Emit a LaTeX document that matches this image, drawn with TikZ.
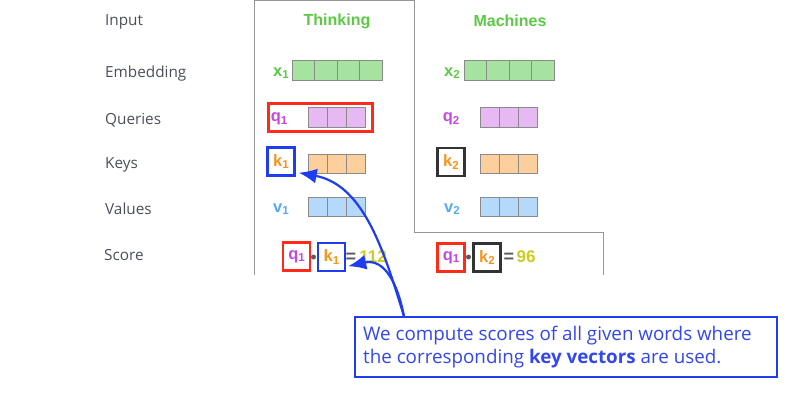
\documentclass[tikz,border=0pt]{standalone}
\usepackage{fontspec}
\setmainfont{Open Sans}
\newfontfamily\hv{Liberation Sans}
\usetikzlibrary{arrows.meta,calc}
\definecolor{lblgray}{HTML}{4A4F57}
\definecolor{wgreen}{HTML}{5BC943}
\definecolor{embg}{HTML}{A6E3A0}
\definecolor{qfill}{HTML}{E6B9F2}
\definecolor{qtext}{HTML}{C548E0}
\definecolor{kfill}{HTML}{FDCF9C}
\definecolor{ktext}{HTML}{F7941D}
\definecolor{vfill}{HTML}{B4D9FB}
\definecolor{vtext}{HTML}{55A8F5}
\definecolor{cellline}{HTML}{8A8A8A}
\definecolor{sblue}{HTML}{1E3CF0}
\definecolor{tblue}{HTML}{3347EE}
\definecolor{sred}{HTML}{FF2A1A}
\definecolor{sdark}{HTML}{333333}
\definecolor{scorecol}{HTML}{CCCC22}
\newcommand\vlab[2]{#1\raisebox{-0.3ex}{\fontsize{11.5}{11}\selectfont #2}}
\begin{document}
\begin{tikzpicture}[x=1pt,y=-1pt,
  rowlab/.style={anchor=west,inner sep=0pt,text=lblgray,font=\fontsize{15.3}{17}\selectfont},
  word/.style={inner sep=0pt,text=wgreen,font=\hv\bfseries\fontsize{16}{18}\selectfont},
  vlabel/.style={inner sep=0pt,font=\hv\bfseries\fontsize{16.5}{18}\selectfont},
  slabel/.style={font=\hv\bfseries\fontsize{16.5}{18}\selectfont},
  cell/.style={draw=cellline,line width=1pt,inner sep=0pt,minimum height=19.5pt},
  ecell/.style={cell,fill=embg,minimum width=22.5pt},
  qcell/.style={cell,fill=qfill,minimum width=19pt},
  kcell/.style={cell,fill=kfill,minimum width=19pt},
  vcell/.style={cell,fill=vfill,minimum width=19pt},
  sk/.style={draw,line width=2.4pt,inner sep=0pt,minimum width=27pt,minimum height=28pt},
  colframe/.style={draw=cellline!90,line width=1pt},
  barrow/.style={draw=sblue,line width=2.2pt,-{Latex[length=18pt,width=15pt]}},
  callout/.style={draw=sblue,line width=2.2pt,fill=white,minimum width=422pt,minimum height=60pt,inner sep=0pt}
]
\useasboundingbox (0,0) rectangle (812,404);

% column frame
\draw[colframe] (254,275) -- (254,1) -- (414,1) -- (414,232) -- (603,232) -- (603,275);

% row labels
\node[rowlab] (lInput) at (105,22) {Input};
\node[rowlab] (lEmb) at (105,74) {Embedding};
\node[rowlab] (lQ) at (105,120) {Queries};
\node[rowlab] (lK) at (105,165) {Keys};
\node[rowlab] (lV) at (105,209) {Values};
\node[rowlab] (lS) at (104,255) {Score};

% words
\node[word] (w1) at (337,21) {Thinking};
\node[word] (w2) at (510,21) {Machines};

% embeddings
\node[vlabel,text=wgreen] (x1) at (281,73) {\vlab{x}{1}};
\node[vlabel,text=wgreen] (x2) at (452,73) {\vlab{x}{2}};
\foreach \i in {1,...,4} {
  \node[ecell] (ea\i) at ({292+(\i-0.5)*22.5},70.5) {};
  \node[ecell] (eb\i) at ({464+(\i-0.5)*22.5},70.5) {};
}

% queries
\node[vlabel,text=qtext] (q1) at (279,119) {\vlab{q}{1}};
\node[vlabel,text=qtext] (q2) at (451,119) {\vlab{q}{2}};
\foreach \i in {1,...,3} {
  \node[qcell] (qa\i) at ({308+(\i-0.5)*19},117.5) {};
  \node[qcell] (qb\i) at ({480+(\i-0.5)*19},117.5) {};
}
\node[draw=sred,line width=2.6pt,minimum width=104pt,minimum height=28pt,inner sep=0pt] (qbox) at (320.5,117.5) {};

% keys
\node[sk,draw=sblue,text=ktext,slabel] (k1) at (281,161.5) {\vlab{k}{1}};
\node[sk,draw=sdark,text=ktext,slabel] (k2) at (451,162) {\vlab{k}{2}};
\foreach \i in {1,...,3} {
  \node[kcell] (ka\i) at ({308+(\i-0.5)*19},164) {};
  \node[kcell] (kb\i) at ({480+(\i-0.5)*19},164) {};
}

% values
\node[vlabel,text=vtext] (v1) at (281,209) {\vlab{v}{1}};
\node[vlabel,text=vtext] (v2) at (452,209) {\vlab{v}{2}};
\foreach \i in {1,...,3} {
  \node[vcell] (va\i) at ({308+(\i-0.5)*19},207) {};
  \node[vcell] (vb\i) at ({480+(\i-0.5)*19},207) {};
}

% scores
\node[sk,draw=sred,text=qtext,slabel] (sq1) at (296.5,256.5) {\vlab{q}{1}};
\node[circle,fill=sdark!80,inner sep=0pt,minimum size=5pt] (d1) at (313.5,257) {};
\node[sk,draw=sblue,text=ktext,slabel] (sk1) at (331.5,257) {\vlab{k}{1}};
\node[inner sep=0pt,text=sdark!80,font=\hv\bfseries\fontsize{18}{18}\selectfont] (eq1) at (351,258) {=};
\node[inner sep=0pt,text=scorecol,font=\hv\bfseries\fontsize{17}{18}\selectfont] (s1) at (373,257) {112};

\node[sk,draw=sred,text=qtext,slabel] (sq2) at (451,257.5) {\vlab{q}{1}};
\node[circle,fill=sdark!80,inner sep=0pt,minimum size=5pt] (d2) at (468.5,257) {};
\node[sk,draw=sdark,text=ktext,slabel] (sk2) at (487,257.5) {\vlab{k}{2}};
\node[inner sep=0pt,text=sdark!80,font=\hv\bfseries\fontsize{18}{18}\selectfont] (eq2) at (509,258) {=};
\node[inner sep=0pt,text=scorecol,font=\hv\bfseries\fontsize{17}{18}\selectfont] (s2) at (526,257) {96};

% callout
\node[callout] (call) at (566,347) {};
\node[anchor=west,inner sep=0pt,text=tblue,align=left,font=\fontsize{18.8}{23}\selectfont] (calltxt) at (363,347)
  {We compute scores of all given words where\\the corresponding \textbf{key vectors} are used.};
\coordinate (astart) at ($(call.north west)+(50,0)$);

% arrows
\draw[barrow] (astart) .. controls (385,255) and (365,185) .. ($(k1.south east)+(3,-4)$);
\draw[barrow] (astart) .. controls (398,285) and (385,258) .. ($(sk1.south east)+(2,-6)$);
\end{tikzpicture}
\end{document}
